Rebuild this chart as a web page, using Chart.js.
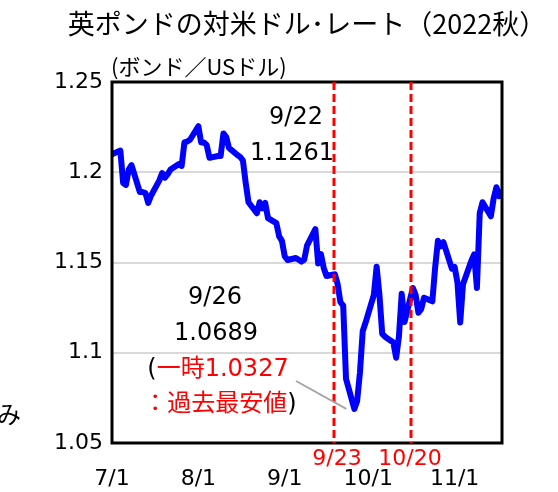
<!DOCTYPE html>
<html>
<head>
<meta charset="utf-8">
<script src="https://cdn.jsdelivr.net/npm/chart.js@4.4.1/dist/chart.umd.min.js"></script>
<style>
  html, body { margin: 0; padding: 0; background: #fff; }
  #wrap { width: 558px; height: 492px; position: relative; }
</style>
</head>
<body>
<div id="wrap"><canvas id="myChart"></canvas></div>
<script>
// GBP/USD daily close, 2022/7/1 - 11/18
var dates = [
  '7/1','7/4','7/5','7/6','7/7','7/8','7/11','7/12','7/13','7/14','7/15',
  '7/18','7/19','7/20','7/21','7/22','7/25','7/26','7/27','7/28','7/29',
  '8/1','8/2','8/3','8/4','8/5','8/8','8/9','8/10','8/11','8/12',
  '8/15','8/16','8/17','8/18','8/19','8/22','8/23','8/24','8/25','8/26',
  '8/29','8/30','8/31','9/1','9/2','9/5','9/6','9/7','9/8','9/9',
  '9/12','9/13','9/14','9/15','9/16','9/19','9/20','9/21','9/22','9/23',
  '9/26','9/27','9/28','9/29','9/30','10/3','10/4','10/5','10/6','10/7',
  '10/10','10/11','10/12','10/13','10/14','10/17','10/18','10/19','10/20','10/21',
  '10/24','10/25','10/26','10/27','10/28','10/31','11/1','11/2','11/3','11/4',
  '11/7','11/8','11/9','11/10','11/11','11/14','11/15','11/16','11/17','11/18'
];
var rates = [
  1.210,1.212,1.194,1.193,1.2015,1.204,1.189,1.189,1.1885,1.183,1.187,
  1.1955,1.1995,1.197,1.199,1.2015,1.2045,1.2035,1.2165,1.217,1.218,
  1.2255,1.2165,1.2165,1.215,1.208,1.209,1.209,1.2215,1.2195,1.2135,
  1.2095,1.2085,1.2065,1.194,1.1834,1.1773,1.1834,1.180,1.183,1.1746,
  1.1718,1.1645,1.162,1.1535,1.1514,1.1525,1.1515,1.1505,1.1515,1.1593,
  1.1685,1.1495,1.1547,1.147,1.1425,1.1435,1.138,1.128,1.1261,1.0856,
  1.0689,1.0733,1.0889,1.1119,1.1166,1.1321,1.1477,1.1321,1.1105,1.1089,
  1.1057,1.0972,1.1089,1.1327,1.117,1.1359,1.132,1.1222,1.1242,1.1305,
  1.1285,1.1472,1.162,1.1589,1.1612,1.1466,1.1475,1.139,1.1167,1.138,
  1.151,1.1545,1.1359,1.1773,1.1834,1.1756,1.1855,1.1917,1.1867,1.189
];
var monthTicks = ['7/1','8/1','9/1','10/1','11/1'];
var yMin = 1.05, yMax = 1.25, yStep = 0.05;
var firstDay = '7/1', lastDay = '11/18';

// event lines, placed where the original drew them (axis units)
var eventLabels = ['9/23','10/20'];
var eventPos = [79.6, 107.2];

function dayOf(md) {
  var p = md.split('/');
  return (Date.UTC(2022, +p[0]-1, +p[1]) - Date.UTC(2022, 6, 1)) / 864e5;
}

var points = dates.map(function(d, i) { return {x: dayOf(d), y: rates[i]}; });

var numFont = "'DejaVu Sans', 'Noto Sans CJK JP', sans-serif";
var jpFont = "'Noto Sans CJK JP', sans-serif";

// text pieces drawn in several colours on one line
function drawParts(ctx, parts, cx, cy, font) {
  ctx.font = font;
  var total = 0;
  parts.forEach(function(p) { total += ctx.measureText(p[0]).width; });
  var x = cx - total/2;
  ctx.textAlign = 'left';
  ctx.textBaseline = 'middle';
  parts.forEach(function(p) {
    ctx.fillStyle = p[1];
    ctx.fillText(p[0], x, cy);
    x += ctx.measureText(p[0]).width;
  });
}

var decor = {
  id: 'decor',
  afterDatasetsDraw: function(chart) {
    var ctx = chart.ctx, a = chart.chartArea;
    var xs = chart.scales.x, ys = chart.scales.y;
    ctx.save();

    // frame
    ctx.strokeStyle = '#000';
    ctx.lineWidth = 3;
    ctx.strokeRect(a.left, a.top, a.right - a.left, a.bottom - a.top);

    // red dashed event lines
    ctx.strokeStyle = '#ff0000';
    ctx.lineWidth = 3;
    ctx.setLineDash([8, 4]);
    eventPos.forEach(function(v, i) {
      var px = Math.round(xs.getPixelForValue(v));
      ctx.beginPath();
      ctx.moveTo(px, a.top);
      ctx.lineTo(px, a.bottom);
      ctx.stroke();
      ctx.font = '22px ' + numFont;
      ctx.fillStyle = '#ff0000';
      ctx.textAlign = 'center';
      ctx.textBaseline = 'middle';
      ctx.fillText(eventLabels[i], px + (i == 0 ? 3 : -1), a.bottom + 16);
    });
    ctx.setLineDash([]);

    // leader line to the low
    var lowX = xs.getPixelForValue(dayOf('9/26'));
    var lowY = ys.getPixelForValue(1.0689);
    ctx.strokeStyle = '#a6a6a6';
    ctx.lineWidth = 2;
    ctx.beginPath();
    ctx.moveTo(296, 381);
    ctx.lineTo(lowX - 8, lowY);
    ctx.stroke();

    // annotations
    ctx.fillStyle = '#000';
    ctx.textAlign = 'center';
    ctx.textBaseline = 'middle';
    ctx.font = '24px ' + numFont;
    ctx.fillText('9/22', 296, 118);
    ctx.fillText('1.1261', 292, 154);
    ctx.fillText('9/26', 215, 298);
    ctx.fillText('1.0689', 216, 334);
    drawParts(ctx, [['(', '#000'], ['一時1.0327', '#ff0000']], 218, 370, '24px ' + numFont);
    drawParts(ctx, [['：過去最安値', '#ff0000'], [')', '#000']], 220, 405, '24px ' + numFont);

    // title and unit
    ctx.fillStyle = '#000';
    ctx.font = '27px ' + jpFont;
    ctx.textAlign = 'center';
    ctx.fillText('英ポンドの対米ドル･レート（2022秋）', 307, 24);
    ctx.font = '22px ' + jpFont;
    ctx.textAlign = 'left';
    ctx.fillText('(ボンド／USドル)', 111, 67);

    // cut-off text at left edge
    ctx.font = '24px ' + jpFont;
    ctx.fillText('み', -3, 414);
    ctx.restore();
  }
};

var ctx = document.getElementById('myChart');
var myChart = new Chart(ctx, {
  type: 'line',
  data: {
    datasets: [{
      data: points,
      borderColor: '#0000ff',
      borderWidth: 6,
      pointRadius: 0,
      tension: 0,
      borderJoinStyle: 'round',
      borderCapStyle: 'round'
    }]
  },
  options: {
    responsive: true,
    maintainAspectRatio: false,
    animation: false,
    layout: { padding: { left: 0, right: 56, top: 82, bottom: 0 } },
    plugins: { legend: { display: false }, tooltip: { enabled: false } },
    scales: {
      x: {
        type: 'linear',
        min: dayOf(firstDay),
        max: dayOf(lastDay),
        afterBuildTicks: function(scale) {
          scale.ticks = monthTicks.map(function(t) { return {value: dayOf(t)}; });
        },
        afterFit: function(scale) { scale.height = 49; },
        grid: { display: false, drawTicks: false },
        border: { display: false },
        ticks: {
          autoSkip: false,
          maxRotation: 0,
          padding: 23,
          color: '#000',
          font: { family: numFont, size: 22 },
          callback: function(v) {
            var i = monthTicks.map(dayOf).indexOf(v);
            return i >= 0 ? monthTicks[i] : '';
          }
        }
      },
      y: {
        min: yMin,
        max: yMax,
        afterFit: function(scale) { scale.width = 112; },
        grid: { color: '#d9d9d9', lineWidth: 2, drawTicks: false },
        border: { display: false },
        ticks: {
          stepSize: yStep,
          padding: 9,
          color: '#000',
          font: { family: numFont, size: 22 },
          callback: function(v) { return String(+v.toFixed(2)); }
        }
      }
    }
  },
  plugins: [decor]
});
</script>
</body>
</html>
